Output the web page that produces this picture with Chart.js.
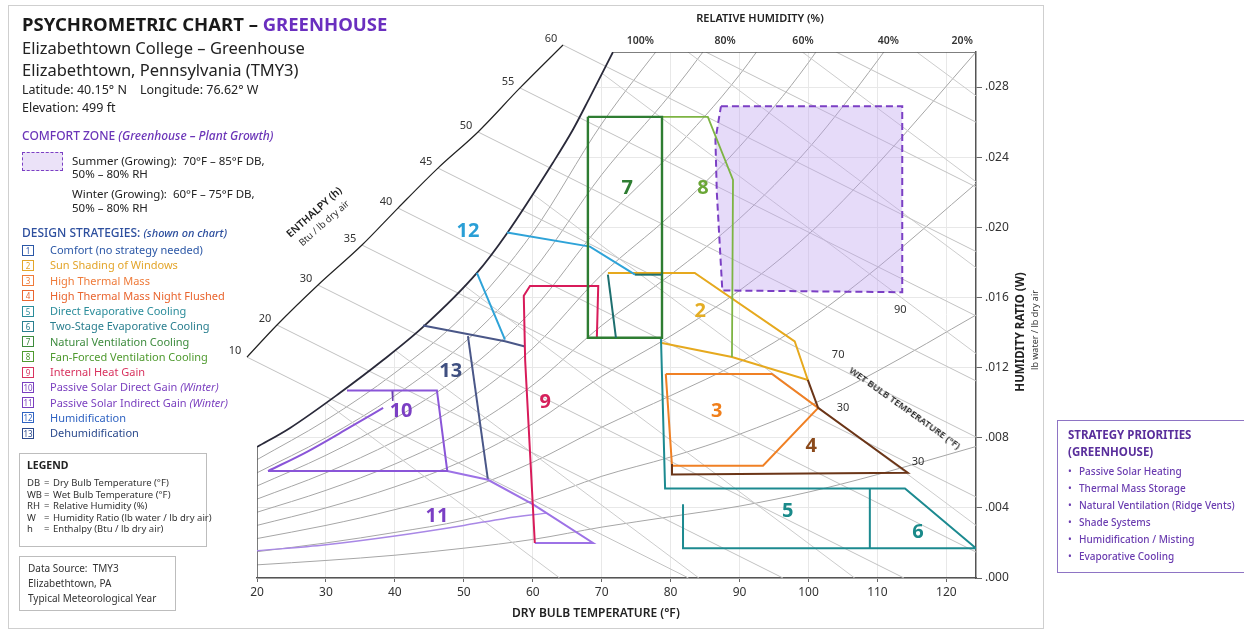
<!DOCTYPE html>
<html><head><meta charset="utf-8">
<script src="https://cdn.jsdelivr.net/npm/chart.js@4.4.1/dist/chart.umd.min.js"></script>
<style>
html,body{margin:0;padding:0;background:#fff;}
#wrap{position:relative;width:1244px;height:634px;overflow:hidden;font-family:"Noto Sans",sans-serif;}
#card{position:absolute;left:8px;top:5px;width:1036px;height:624px;border:1px solid #cfcfcf;box-sizing:border-box;}
canvas{position:absolute;left:0;top:0;}
.t{position:absolute;white-space:nowrap;line-height:1;color:#222;}
.bx{position:absolute;box-sizing:border-box;}
</style></head>
<body><div id="wrap"><div id="card"></div><canvas id="c" width="1244" height="634"></canvas><div id="txt"></div></div>
<script>
// ---------- axes ----------
const xTicks=[20,30,40,50,60,70,80,90,100,110,120];
const yTicks=[0,0.004,0.008,0.012,0.016,0.020,0.024,0.028];
// ---------- saturation curve (100% RH) ----------
const satDB=[20,24.8,32.0,38.3,44.1,51.9,56.3,62.9,65.8,68.3,71.64];
const satW=[0.00747,0.00856,0.01055,0.01243,0.01432,0.0174,0.01968,0.02367,0.02555,0.02743,0.0300];
// ---------- relative humidity curves ----------
const rhDB=[20,30,40,50,60,70,80,90,100,110,124.3];
const rh90=[0.00675,0.0090,0.0117,0.0150,0.0197,0.0259,0.0311];
const rh80=[0.0060,0.0080,0.0104,0.0134,0.0175,0.0230,0.0276,0.0328];
const rh70=[0.00525,0.0070,0.0091,0.0117,0.0153,0.0202,0.0242,0.0287,0.0343];
const rh60=[0.0045,0.0060,0.0078,0.0100,0.0131,0.0173,0.0207,0.0246,0.0294,0.0354];
const rh50=[0.00375,0.0050,0.0065,0.0084,0.0110,0.0144,0.0173,0.0205,0.0245,0.0295,0.0375];
const rh40=[0.0030,0.0040,0.0052,0.0067,0.0088,0.0115,0.0138,0.0164,0.0196,0.0236,0.0300];
const rh30=[0.00225,0.0030,0.0039,0.0050,0.0066,0.0086,0.0104,0.0123,0.0147,0.0177,0.0225];
const rh20=[0.0015,0.0020,0.0026,0.0033,0.0044,0.0058,0.0069,0.0082,0.0098,0.0118,0.0150];
const rh10=[0.00075,0.0010,0.0013,0.0017,0.0022,0.0029,0.0035,0.0041,0.0049,0.0059,0.0075];
const rhLabels=['100%','80%','60%','40%','20%'];
const rhLabelDB=[75.6,87.9,99.2,111.6,122.3];
// ---------- enthalpy scale ----------
const enthVals=['10','20','30','35','40','45','50','55','60'];
const enthDB=[18.55,22.9,28.85,35.23,40.45,46.25,52.06,58.15,64.39];
const enthW=[0.0126,0.01443,0.01671,0.01899,0.0211,0.02338,0.02544,0.02795,0.0304];
const enthEndDB=[82.6,96.3,113.85,124.3,124.3,124.3,124.3,124.3,124.3];
const enthEndW=[0,0,0,0.00148,0.00462,0.00804,0.01124,0.01495,0.01862];
const enthTopStartDB=[85.1,104.0];
const enthTopEndW=[0.0223,0.0260];
// ---------- wet bulb lines ----------
const wbStartDB=[30,40,50,60,70,82.5,99.1,115.7];
const wbStartW=[0.0100,0.0130,0.0167,0.0219,0.0288,0.030,0.030,0.030];
const wbEndDB=[63.9,84.1,106.7,124.3,124.3,124.3,124.3,124.3];
const wbEndW=[0,0,0,0.0030,0.0128,0.0177,0.0226,0.0275];
const wbVals=['90','70','30','30'];
const wbDB=[113.3,104.3,105.0,115.9];
const wbW=[0.0153,0.0127,0.0097,0.0066];
// ---------- comfort zone & strategy zones (DB °F, W) ----------
const comfortZone=[[87.3,0.0269],[113.6,0.0269],[113.6,0.0163],[87.5,0.0164],[86.7,0.0220],[86.5,0.0250],[87.3,0.0269]];
const zone2=[[70.9,0.0174],[83.5,0.0174],[98.0,0.0135],[99.9,0.0113],[88.9,0.0126],[78.75,0.0134]];
const zone3=[[79.3,0.01164],[94.7,0.01164],[101.4,0.0097],[93.4,0.0064],[80.2,0.0064],[79.3,0.01164]];
const zone4=[[99.9,0.0113],[101.4,0.0097],[114.4,0.0060],[80.2,0.0059],[80.2,0.0065]];
const zone5=[[78.6,0.0137],[79.2,0.0051],[114.0,0.0051],[124.3,0.0017],[81.8,0.0017],[81.8,0.0042]];
const zone6=[[108.9,0.0051],[108.9,0.0017]];
const zone7=[[68.0,0.0263],[78.75,0.0263],[78.75,0.0137],[68.0,0.0137],[68.0,0.0263]];
const zone8=[[78.75,0.0263],[85.4,0.0263],[89.05,0.0227],[88.9,0.0126]];
const zone9=[[69.3,0.0137],[69.5,0.01665],[59.6,0.01665],[58.7,0.0161],[58.9,0.0124],[60.3,0.0020]];
const zone10=[[33.05,0.0107],[46.1,0.0107],[47.6,0.0061],[21.6,0.0061]];
const zone10curve=[[21.6,0.0061],[27.25,0.0072],[33.5,0.0086],[38.3,0.0097]];
const zone10tick=[[39.6,0.0107],[39.7,0.0101]];
const zone11=[[47.6,0.0061],[53.5,0.0056],[60.05,0.0042],[68.75,0.0020],[60.3,0.0020]];
const zone11curve=[[20,0.00155],[30,0.0019],[40,0.0024],[50,0.0030],[56,0.0034],[62,0.0037]];
const zone12=[[56.26,0.0197],[68.3,0.0189],[74.84,0.0173]];
const zone12b=[[51.9,0.0174],[55.97,0.0136]];
const zone13=[[44.08,0.0144],[55.97,0.0135],[58.87,0.0132]];
const zone13b=[[50.6,0.0138],[53.5,0.0056]];
const innerTop=[[74.84,0.0173],[78.75,0.0173]];
const innerSide=[[70.9,0.0173],[72.07,0.0137]];
const zoneNum=['12','7','8','2','13','9','10','3','4','11','5','6'];
const zoneNumDB=[50.6,73.7,84.7,84.3,48.1,61.8,40.9,86.7,100.4,46.1,97.0,115.9];
const zoneNumW=[0.0198,0.0222,0.0222,0.0152,0.0118,0.0100,0.0095,0.0095,0.0075,0.0035,0.0038,0.0026];
const zoneNumColor=['#2a9fd6','#2e7d32','#6aa636','#e4ad24','#3f4f80','#d6205b','#7b3fc4','#f07f1b','#8b4a1b','#7b3fc4','#1a8a8a','#1a8a8a'];

// ---------- helpers ----------
const P=a=>a.map(p=>({x:p[0],y:p[1]}));
const Z=(xs,ys)=>ys.map((v,i)=>({x:xs[i],y:v}));
function ds(data,color,width,extra){return Object.assign({data,showLine:true,borderColor:color,backgroundColor:color,borderWidth:width,pointRadius:0,pointHoverRadius:0,fill:false,tension:0,order:10},extra||{});}

const datasets=[];
datasets.push(ds(Z(satDB,satW),'rgba(0,0,0,0)',0,{fill:'end',backgroundColor:'#ffffff',cubicInterpolationMode:'monotone',order:100}));
[rh90,rh80,rh70,rh60,rh50,rh40,rh30,rh20,rh10].forEach(a=>datasets.push(ds(Z(rhDB,a),'#a6a6a6',1,{cubicInterpolationMode:'monotone',order:90})));
wbStartDB.forEach((v,i)=>datasets.push(ds(P([[v,wbStartW[i]],[wbEndDB[i],wbEndW[i]]]),'#cccccc',1,{order:85})));
enthDB.forEach((v,i)=>datasets.push(ds(P([[v,enthW[i]],[enthEndDB[i],enthEndW[i]]]),'#c2c2c2',1,{order:80,clip:false})));
enthTopStartDB.forEach((v,i)=>datasets.push(ds(P([[v,0.030],[124.3,enthTopEndW[i]]]),'#c2c2c2',1,{order:80})));
datasets.push(ds(P([[20,satW[0]],[20,0]]),'#555',1.5,{order:20}));
datasets.push(ds(P([[satDB[satDB.length-1],0.030],[124.3,0.030]]),'#555',1.5,{order:20}));
datasets.push(ds(Z(satDB,satW),'#2a2a3a',1.8,{cubicInterpolationMode:'monotone',order:20}));
datasets.push(ds(Z(enthDB,enthW),'#222',1.2,{cubicInterpolationMode:'monotone',order:20,clip:false}));
datasets.push(ds(P(comfortZone),'#7b3fc4',2,{fill:'shape',backgroundColor:'rgba(190,160,240,0.38)',borderDash:[7,4],order:15}));
datasets.push(ds(P(zone2),'#e6a91e',2,{order:9}));
datasets.push(ds(P(zone3),'#f08024',2,{order:8}));
datasets.push(ds(P(zone4),'#6b3517',2,{order:7}));
datasets.push(ds(P(zone5),'#1c8a90',2,{order:8}));
datasets.push(ds(P(zone6),'#1c8a90',2,{order:8}));
datasets.push(ds(P(zone7),'#2e7d32',2.4,{order:6}));
datasets.push(ds(P(zone8),'#7db443',1.8,{order:8}));
datasets.push(ds(P(zone9),'#d81b5a',2,{order:7}));
datasets.push(ds(P(zone10),'#8a55d8',2,{order:8}));
datasets.push(ds(P(zone10curve),'#8a55d8',2,{cubicInterpolationMode:'monotone',order:8}));
datasets.push(ds(P(zone10tick),'#6b3fb0',1.5,{order:8}));
datasets.push(ds(P(zone11),'#9d72e6',2,{order:8}));
datasets.push(ds(P(zone11curve),'#a988e6',1.5,{cubicInterpolationMode:'monotone',order:8}));
datasets.push(ds(P(zone12),'#2ea3d8',2,{order:8}));
datasets.push(ds(P(zone12b),'#2ea3d8',2,{order:8}));
datasets.push(ds(P(zone13),'#4a5788',2,{order:8}));
datasets.push(ds(P(zone13b),'#4a5788',2,{order:8}));
datasets.push(ds(P(innerTop),'#1d6f6f',2,{order:4}));
datasets.push(ds(P(innerSide),'#1d6f6f',2,{order:4}));

const textPlugin={id:'chartText',afterDatasetsDraw(chart){
  const ctx=chart.ctx,x=chart.scales.x,y=chart.scales.y;
  ctx.save();ctx.textAlign='center';ctx.textBaseline='middle';
  ctx.fillStyle='#333';ctx.font='11px "Noto Sans"';
  enthVals.forEach((t,i)=>ctx.fillText(t,x.getPixelForValue(enthDB[i])-12,y.getPixelForValue(enthW[i])-6));
  wbVals.forEach((t,i)=>ctx.fillText(t,x.getPixelForValue(wbDB[i]),y.getPixelForValue(wbW[i])));
  ctx.font='600 10.5px "Noto Sans"';
  rhLabels.forEach((t,i)=>ctx.fillText(t,x.getPixelForValue(rhLabelDB[i]),y.top-11));
  ctx.font='bold 20px "Noto Sans"';
  zoneNum.forEach((t,i)=>{ctx.fillStyle=zoneNumColor[i];ctx.fillText(t,x.getPixelForValue(zoneNumDB[i]),y.getPixelForValue(zoneNumW[i]));});
  ctx.restore();
}};

Chart.defaults.font.family='"Noto Sans", sans-serif';
new Chart(document.getElementById('c'),{
  type:'scatter',
  data:{datasets},
  options:{responsive:false,animation:false,devicePixelRatio:1,events:[],
    layout:{padding:{left:257,top:52,right:0,bottom:0}},
    plugins:{legend:{display:false},tooltip:{enabled:false}},
    scales:{
      x:{type:'linear',min:20,max:124.3,position:'bottom',
        afterBuildTicks:s=>{s.ticks=xTicks.map(v=>({value:v}));},
        afterFit:s=>{s.height=56;},
        ticks:{color:'#333',font:{size:12},padding:3,autoSkip:false,maxRotation:0},
        grid:{color:'#e8e8e8',lineWidth:1,tickLength:4,tickColor:'#666'},
        border:{color:'#555',width:1.5}},
      y:{type:'linear',min:0,max:0.030,position:'right',
        afterBuildTicks:s=>{s.ticks=yTicks.map(v=>({value:v}));},
        afterFit:s=>{s.width=268;},
        ticks:{color:'#333',font:{size:12},padding:3,callback:v=>v.toFixed(3).replace(/^0/,'')},
        grid:{color:'#e8e8e8',lineWidth:1,tickLength:6,tickColor:'#666'},
        border:{color:'#555',width:1.5}}
    }},
  plugins:[textPlugin]
});

// ---------- text panels ----------
const strategyNames=['Comfort (no strategy needed)','Sun Shading of Windows','High Thermal Mass','High Thermal Mass Night Flushed','Direct Evaporative Cooling','Two-Stage Evaporative Cooling','Natural Ventilation Cooling','Fan-Forced Ventilation Cooling','Internal Heat Gain','Passive Solar Direct Gain','Passive Solar Indirect Gain','Humidification','Dehumidification'];
const strategyNote=['','','','','','','','','',' (Winter)',' (Winter)','',''];
const strategyColors=['#2b57a6','#e3a52a','#ef7b3a','#e9652f','#2a8c9a','#2a7f8f','#3d8b3d','#4f9a2f','#d8335f','#7a3fbf','#7a3fbf','#2f63c2','#2b4a8d'];
const legendAbbr=['DB','WB','RH','W','h'];
const legendText=['Dry Bulb Temperature (°F)','Wet Bulb Temperature (°F)','Relative Humidity (%)','Humidity Ratio (lb water / lb dry air)','Enthalpy (Btu / lb dry air)'];
const priorities=['Passive Solar Heating','Thermal Mass Storage','Natural Ventilation (Ridge Vents)','Shade Systems','Humidification / Misting','Evaporative Cooling'];

const host=document.getElementById('txt');
function T(html,x,yc,fs,st){const d=document.createElement('div');d.className='t';d.innerHTML=html;d.style.left=x+'px';d.style.top=(yc-0.53*fs)+'px';d.style.fontSize=fs+'px';if(st)Object.assign(d.style,st);host.appendChild(d);return d;}
function R(x,cy,html,fs,rot,st){const d=document.createElement('div');d.className='t';d.innerHTML=html;d.style.left=x+'px';d.style.top=cy+'px';d.style.fontSize=fs+'px';d.style.transform='translate(-50%,-50%) rotate('+rot+'deg)';if(st)Object.assign(d.style,st);host.appendChild(d);return d;}
function B(x,y,w,h,st){const d=document.createElement('div');d.className='bx';Object.assign(d.style,{left:x+'px',top:y+'px',width:w+'px',height:h+'px'},st||{});host.appendChild(d);return d;}

T('PSYCHROMETRIC CHART – <span style="color:#6a2fbf">GREENHOUSE</span>',22,24.5,18.5,{fontWeight:'700',color:'#1a1a1a'});
T('Elizabethtown College – Greenhouse',22,49,16.5,{color:'#222'});
T('Elizabethtown, Pennsylvania (TMY3)',22,71,16.5,{color:'#222'});
T('Latitude: 40.15° N&nbsp;&nbsp;&nbsp; Longitude: 76.62° W',22,91,12.5,{color:'#222'});
T('Elevation: 499 ft',22,109,12.5,{color:'#222'});
T('COMFORT ZONE <i>(Greenhouse – Plant Growth)</i>',22,136,12,{color:'#6b35b8',fontWeight:'500'});
B(22,152,41,19,{border:'1.5px dashed #7b3fc4',background:'#ebe2f8'});
T('Summer (Growing):&nbsp; 70°F – 85°F DB,',72,161,11.5,{color:'#222'});
T('50% – 80% RH',72,174,11.5,{color:'#222'});
T('Winter (Growing):&nbsp; 60°F – 75°F DB,',72,194,11.5,{color:'#222'});
T('50% – 80% RH',72,208,11.5,{color:'#222'});
T('DESIGN STRATEGIES: <i style="font-size:11px">(shown on chart)</i>',22,233,12,{color:'#2d4f9e',fontWeight:'500'});
strategyNames.forEach((n,i)=>{
  const yc=250+i*15.25,c=strategyColors[i];
  const b=B(22,yc-5.5,12,11,{border:'1px solid '+c,color:c,fontSize:'8px',lineHeight:'9px',textAlign:'center',background:'#fff'});
  b.textContent=String(i+1);
  T(n+(strategyNote[i]?'<i>'+strategyNote[i]+'</i>':''),50,yc,11,{color:c});
});
B(19,453,188,94,{border:'1px solid #bdbdbd'});
T('LEGEND',27,466,10.5,{fontWeight:'700',color:'#222'});
legendAbbr.forEach((a,i)=>{const yc=483+i*11.6;T(a,27,yc,9.5,{color:'#333'});T('=',44,yc,9.5,{color:'#333'});T(legendText[i],53,yc,9.5,{color:'#333'});});
B(19,556,157,55,{border:'1px solid #bdbdbd'});
T('Data Source:&nbsp; TMY3',28,568,10,{color:'#333'});
T('Elizabethtown, PA',28,583,10,{color:'#333'});
T('Typical Meteorological Year',28,598,10,{color:'#333'});
B(1057,420,200,153,{border:'1.2px solid #8e74c4'});
T('STRATEGY PRIORITIES',1068,435,11.5,{fontWeight:'700',color:'#5a2f9c'});
T('(GREENHOUSE)',1068,452,11.5,{fontWeight:'700',color:'#5a2f9c'});
priorities.forEach((p,i)=>{const yc=471+i*17;T('•',1068,yc,10,{color:'#6a3cb0'});T(p,1079,yc,10,{color:'#6a3cb0',fontWeight:'500'});});
// axis titles
R(760,17,'RELATIVE HUMIDITY (%)',11,0,{fontWeight:'600',color:'#222'});
R(596,613,'DRY BULB TEMPERATURE (°F)',12,0,{fontWeight:'600',color:'#222'});
R(1020,332,'HUMIDITY RATIO (W)',11.5,-90,{fontWeight:'700',color:'#222'});
R(1034,330,'lb water / lb dry air',9,-90,{color:'#333'});
R(314,212,'ENTHALPY (h)',10.5,-41.6,{fontWeight:'600',color:'#222'});
R(324,223,'Btu / lb dry air',9.5,-41.6,{color:'#333'});
R(905,408,'WET BULB TEMPERATURE (°F)',9.5,35.4,{fontWeight:'600',color:'#222'});
</script></body></html>
